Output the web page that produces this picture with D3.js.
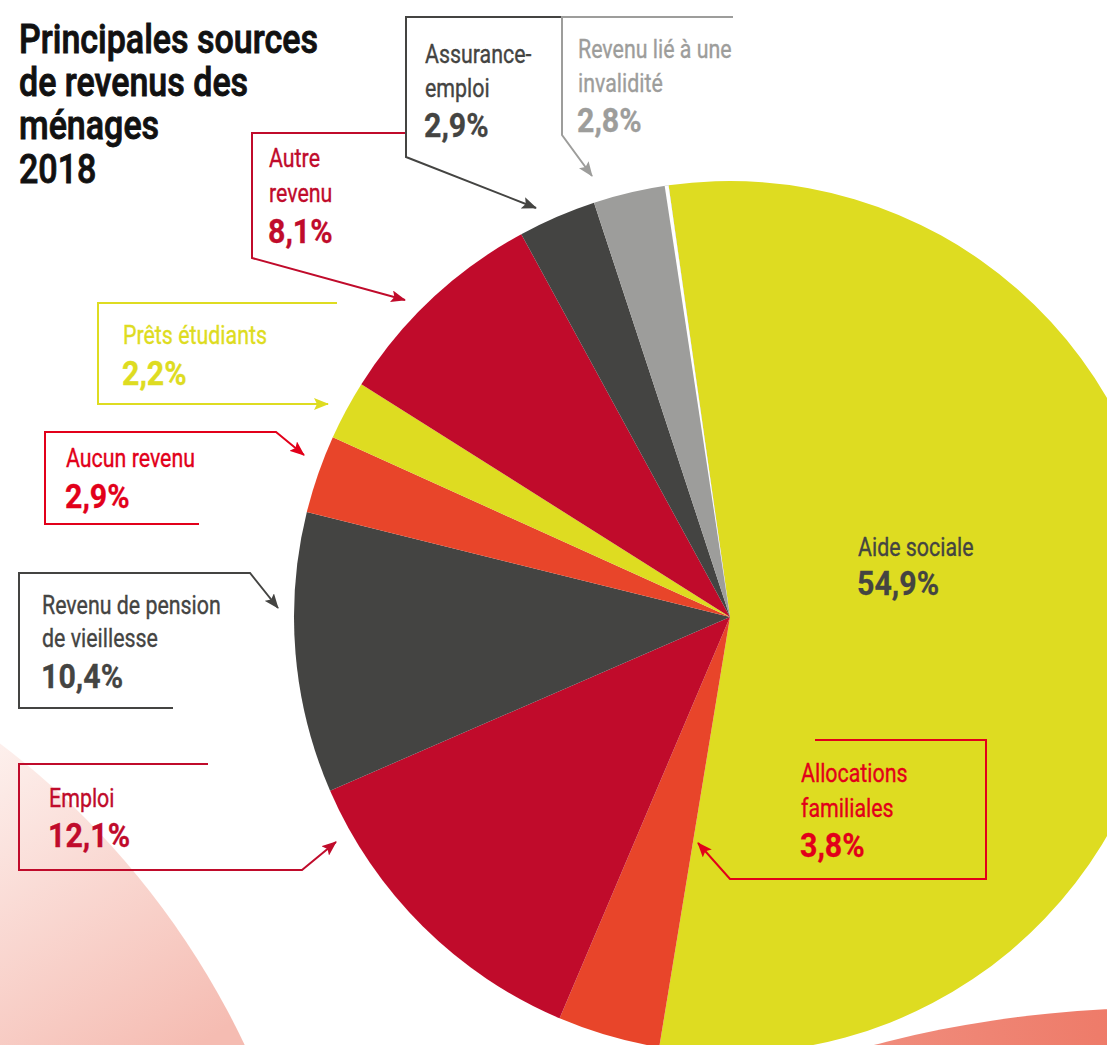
<!DOCTYPE html>
<html lang="fr">
<head>
  <meta charset="UTF-8">
  <title>Principales sources de revenus des ménages 2018</title>
  <style>
    html, body {
      margin: 0;
      padding: 0;
      overflow: hidden;
      background: #fff;
    }
    svg {
      display: block;
      font-family: Roboto, "Noto Sans", sans-serif;
    }
  </style>
</head>
<body>
  <svg width="1107" height="1045"></svg>
</body>
<script src="https://d3js.org/d3.v7.min.js"></script>
<script type="text/javascript">
  // data
  const categories = [
    'Aide sociale', 'Allocations familiales', 'Emploi', 'Revenu de pension de vieillesse',
    'Aucun revenu', 'Prêts étudiants', 'Autre revenu', 'Assurance-emploi', 'Revenu lié à une invalidité'
  ]
  const values = [54.9, 3.8, 12.1, 10.4, 2.9, 2.2, 8.1, 2.9, 2.8]
  const labelLines = [
    ['Aide sociale'],
    ['Allocations', 'familiales'],
    ['Emploi'],
    ['Revenu de pension', 'de vieillesse'],
    ['Aucun revenu'],
    ['Prêts étudiants'],
    ['Autre', 'revenu'],
    ['Assurance-', 'emploi'],
    ['Revenu lié à une', 'invalidité']
  ]
  const titleLines = ['Principales sources', 'de revenus des', 'ménages', '2018']

  const sliceColors = ['#dedc21', '#e8452a', '#c00b2b', '#444442', '#e8452a', '#dedc21', '#c00b2b', '#444442', '#9d9d9b']
  const textColors = ['#444442', '#e2001a', '#c00b2b', '#444442', '#e2001a', '#dedc21', '#c00b2b', '#444442', '#9d9d9b']

  // callout layout (frame polyline, arrow at the last point), text x and baselines
  const callouts = [
    { x: 858, y: [556, 595], frame: null },
    { x: 801, y: [782, 817, 857], frame: [[815, 740], [986, 740], [986, 879], [730, 879], [698, 843]] },
    { x: 49, y: [807, 847], frame: [[208, 764], [19, 764], [19, 870], [302, 870], [336, 842]] },
    { x: 42, y: [614, 647, 688], frame: [[173, 708], [19, 708], [19, 573], [250, 573], [278, 608]] },
    { x: 66, y: [467, 508], frame: [[199, 524], [45, 524], [45, 432], [276, 432], [304, 455]] },
    { x: 123, y: [344, 385], frame: [[337, 303], [98, 303], [98, 404], [328, 404]] },
    { x: 269, y: [167, 202, 243], frame: [[405, 133], [252, 133], [252, 258], [405, 300]] },
    { x: 425, y: [63, 97, 137], frame: [[562, 17], [406, 17], [406, 157], [536, 208]] },
    { x: 578, y: [58, 92, 132], frame: [[733, 17], [562, 17], [562, 135], [592, 176]] }
  ]

  const svg = d3.select('svg')

  const cx = 730
  const cy = 617
  const radius = 436
  const start = -8.1 * Math.PI / 180

  // Roboto squeezed horizontally to get a condensed face
  const squeeze = { label: 0.855, pct: 0.92, title: 0.83 }

  const fr = d3.formatLocale({ decimal: ',', thousands: ' ', grouping: [3], currency: ['', ''] })
  const pct = v => fr.format('.1f')(v) + '%'

  const defs = svg.append('defs')

  // background discs
  const gradLeft = defs.append('linearGradient')
    .attr('id', 'gradLeft')
    .attr('gradientUnits', 'userSpaceOnUse')
    .attr('x1', 0).attr('y1', 740).attr('x2', 200).attr('y2', 1045)
  gradLeft.append('stop').attr('offset', 0).attr('stop-color', '#fdf0ed')
  gradLeft.append('stop').attr('offset', 1).attr('stop-color', '#f5bcb2')

  const gradRight = defs.append('linearGradient')
    .attr('id', 'gradRight')
    .attr('gradientUnits', 'userSpaceOnUse')
    .attr('x1', 870).attr('y1', 1040).attr('x2', 1107).attr('y2', 1010)
  gradRight.append('stop').attr('offset', 0).attr('stop-color', '#f08d7d')
  gradRight.append('stop').attr('offset', 1).attr('stop-color', '#ee7b69')

  svg.append('circle')
    .attr('cx', -497).attr('cy', 1397).attr('r', 821)
    .attr('fill', 'url(#gradLeft)')

  svg.append('circle')
    .attr('cx', 1160).attr('cy', 2133).attr('r', 1125)
    .attr('fill', 'url(#gradRight)')

  // pie
  const pie = d3.pie()
    .sort(null)
    .value(d => d)
    .startAngle(start)
    .endAngle(start + 2 * Math.PI)

  const arc = d3.arc()
    .innerRadius(0)
    .outerRadius(radius)

  const g = svg.append('g')
    .attr('transform', `translate(${cx},${cy})`)

  g.selectAll('path.slice')
    .data(pie(values))
    .enter()
    .append('path')
    .attr('class', 'slice')
    .attr('d', arc)
    .attr('fill', (d, i) => sliceColors[i])

  // thin white gap where the last slice meets the first one
  g.append('path')
    .attr('d', arc({ startAngle: start - 0.009, endAngle: start }))
    .attr('fill', '#fff')

  // arrow markers, one per colour
  const markerColors = Array.from(new Set(textColors))
  const markerId = c => 'arrow' + c.replace('#', '')
  defs.selectAll('marker')
    .data(markerColors)
    .enter()
    .append('marker')
    .attr('id', markerId)
    .attr('markerUnits', 'userSpaceOnUse')
    .attr('markerWidth', 16)
    .attr('markerHeight', 12)
    .attr('refX', 14)
    .attr('refY', 6)
    .attr('orient', 'auto')
    .append('path')
    .attr('d', 'M0,0 L15,6 L0,12 L3,6 Z')
    .attr('fill', c => c)

  const addText = (sel, x, y, size, weight, sx, txt, thick) =>
    sel.append('text')
      .attr('transform', `translate(${x},${y}) scale(${sx},1)`)
      .attr('font-size', size)
      .attr('font-weight', weight)
      .attr('stroke-width', thick)
      .text(txt)

  // callouts
  const line = d3.line()

  callouts.forEach((c, i) => {
    const color = textColors[i]
    if (c.frame) {
      svg.append('path')
        .attr('d', line(c.frame))
        .attr('fill', 'none')
        .attr('stroke', color)
        .attr('stroke-width', 2)
        .attr('marker-end', `url(#${markerId(color)})`)
    }
    const lines = labelLines[i]
    const t = svg.append('g').attr('fill', color).attr('stroke', color)
    lines.forEach((txt, j) => addText(t, c.x, c.y[j], 25, 'normal', squeeze.label, txt, 0.35))
    addText(t, c.x - 1, c.y[lines.length], 33, 'bold', squeeze.pct, pct(values[i]), 0.3)
  })

  // title, one text block with a tspan per line
  const titleY = [53, 96, 139, 183]
  svg.append('text')
    .attr('transform', `translate(19,0) scale(${squeeze.title},1)`)
    .attr('font-size', 41)
    .attr('font-weight', 500)
    .attr('fill', '#111')
    .attr('stroke', '#111')
    .attr('stroke-width', 0.9)
    .selectAll('tspan')
    .data(titleLines)
    .enter()
    .append('tspan')
    .attr('x', 0)
    .attr('y', (d, i) => titleY[i])
    .text(d => d)
</script>
</html>
